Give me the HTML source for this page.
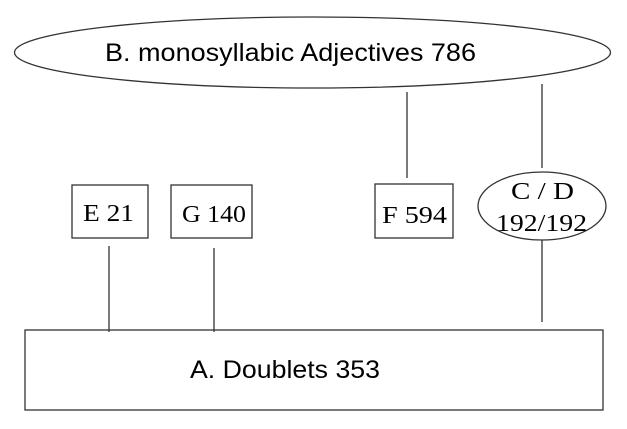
<!DOCTYPE html>
<html><head><style>
html,body{margin:0;padding:0;background:#fff;}
svg{display:block;}
</style></head><body>
<svg width="627" height="429" viewBox="0 0 627 429" xmlns="http://www.w3.org/2000/svg">
<g fill="none" stroke="#333" stroke-width="1.3">
<ellipse cx="312.5" cy="52.5" rx="298" ry="35.5"/>
<rect x="72" y="185" width="76" height="53"/>
<rect x="171" y="185" width="81" height="53"/>
<rect x="375" y="184" width="78" height="54"/>
<ellipse cx="542" cy="206" rx="64" ry="34"/>
<rect x="25" y="330" width="578" height="80"/>
<line x1="407" y1="92" x2="407" y2="178"/>
<line x1="542" y1="84" x2="542" y2="168"/>
<line x1="109" y1="246" x2="109" y2="332"/>
<line x1="214" y1="248" x2="214" y2="332"/>
<line x1="542" y1="240" x2="542" y2="322"/>
</g>
<g font-family="'Liberation Sans', 'DejaVu Sans', sans-serif" fill="#000">
<text x="105" y="61" font-size="25" textLength="371" lengthAdjust="spacingAndGlyphs">B. monosyllabic Adjectives 786</text>
<text x="190" y="378" font-size="25" textLength="190" lengthAdjust="spacingAndGlyphs">A. Doublets 353</text>
</g>
<g font-family="'Liberation Serif', serif" fill="#000" font-size="24">
<text x="83" y="221" textLength="51" lengthAdjust="spacingAndGlyphs">E 21</text>
<text x="182" y="222" textLength="64" lengthAdjust="spacingAndGlyphs">G 140</text>
<text x="382" y="223" textLength="65" lengthAdjust="spacingAndGlyphs">F 594</text>
<text x="511" y="199" textLength="63" lengthAdjust="spacingAndGlyphs">C / D</text>
<text x="496" y="231" textLength="91" lengthAdjust="spacingAndGlyphs">192/192</text>
</g>
</svg>
</body></html>
